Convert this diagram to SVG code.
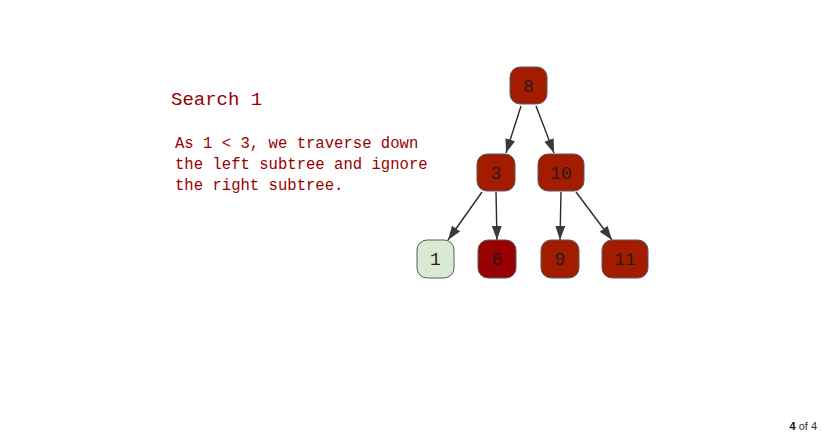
<svg xmlns="http://www.w3.org/2000/svg" width="822" height="436" viewBox="0 0 822 436">
<defs>
<marker id="arr" viewBox="0 0 14 10" refX="14" refY="5" markerWidth="14" markerHeight="10" markerUnits="userSpaceOnUse" orient="auto">
<path d="M0,0 L14,5 L0,10 Z" fill="#3a3a3a"/>
</marker>
</defs>
<style>
.node rect{stroke:#5a5a5a;stroke-width:1;}
.red rect{fill:#a31c00;}
.dark rect{fill:#990000;}
.green rect{fill:#d9ead3;}
.node text{font-family:"Liberation Mono","Courier New",monospace;font-size:18px;fill:#2a1a1a;text-anchor:middle;}
.edge{stroke:#2a2a2a;stroke-width:1.4;fill:none;marker-end:url(#arr);}
.title{font-family:"Liberation Mono","Courier New",monospace;font-size:19px;fill:#990000;}
.desc{font-family:"Liberation Mono","Courier New",monospace;font-size:15.6px;fill:#990000;}
</style>
<rect width="822" height="436" fill="#ffffff"/>
<text class="title" x="171" y="105">Search 1</text>
<text class="desc"><tspan x="175" y="148">As 1 &lt; 3, we traverse down</tspan><tspan x="175" y="169">the left subtree and ignore</tspan><tspan x="175" y="190">the right subtree.</tspan></text>
<g id="connectors">
<line class="edge" x1="521" y1="106" x2="506" y2="153"/>
<line class="edge" x1="536" y1="106" x2="554" y2="153"/>
<line class="edge" x1="482" y1="192" x2="448" y2="240"/>
<line class="edge" x1="496" y1="192" x2="497" y2="240"/>
<line class="edge" x1="561" y1="192" x2="560" y2="240"/>
<line class="edge" x1="576" y1="192" x2="612" y2="240"/>
</g>
<g id="n8" class="node red"><rect x="510" y="67" width="37" height="37" rx="10"/><text x="528.5" y="91.5">8</text></g>
<g id="n3" class="node red"><rect x="477" y="154" width="38" height="37" rx="10"/><text x="496" y="178.5">3</text></g>
<g id="n10" class="node red"><rect x="538" y="154" width="46" height="37" rx="10"/><text x="561" y="178.5">10</text></g>
<g id="n1" class="node green"><rect x="417" y="240" width="37" height="38" rx="10"/><text x="435.5" y="265">1</text></g>
<g id="n6" class="node dark"><rect x="478" y="240" width="38" height="38" rx="10"/><text x="497" y="265">6</text></g>
<g id="n9" class="node red"><rect x="541" y="240" width="38" height="38" rx="10"/><text x="560" y="265">9</text></g>
<g id="n11" class="node red"><rect x="602" y="240" width="46" height="38" rx="10"/><text x="625" y="265">11</text></g>
<text x="817" y="430" text-anchor="end" font-family="Liberation Sans, Arial, sans-serif" font-size="11px" fill="#333"><tspan font-weight="bold" fill="#111">4</tspan> of 4</text>
</svg>
